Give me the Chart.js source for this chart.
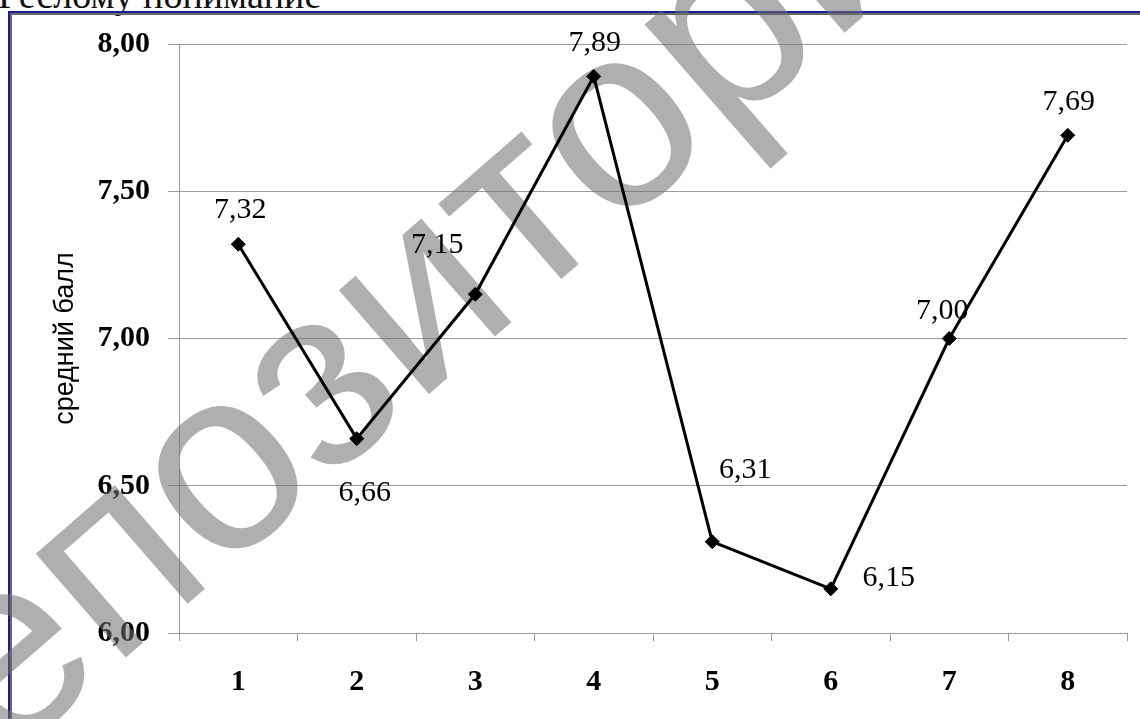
<!DOCTYPE html>
<html>
<head>
<meta charset="utf-8">
<script src="https://cdn.jsdelivr.net/npm/chart.js@4"></script>
<style>
  html, body { margin: 0; padding: 0; background: #fff; overflow: hidden; }
  #page { position: relative; width: 1140px; height: 719px; overflow: hidden; }
  #topText { position: absolute; left: -2px; top: -27px; font: 38px 'Liberation Serif', serif; color: #111; white-space: nowrap; }
  #frame { position: absolute; left: 8px; top: 11px; width: 1200px; height: 800px;
           border: 2px solid #1d1d9a; box-shadow: inset 2px 2px 0 #6a6a6a; }
  #chartModule { position: absolute; left: 0; top: 0; }
</style>
</head>
<body>
<div id="page">
  <div id="topText">Реслому понимание</div>
  <div id="frame"></div>
  <canvas id="chartModule" width="1140" height="719"></canvas>
</div>
<script>
const categories = ['1', '2', '3', '4', '5', '6', '7', '8'];
const averageScores = [7.32, 6.66, 7.15, 7.89, 6.31, 6.15, 7.00, 7.69];
const yTicks = [6.00, 6.50, 7.00, 7.50, 8.00];
const yTitle = 'средний балл';
const watermarkText = 'репозиторий';

// décalage des étiquettes par point (dx, dy en px)
const labelOffsets = [[2, -34], [8, 54], [-38, -49], [1, -33], [33, -72], [58, -11], [-7, -27], [1, -33]];

const formatComma = v => v.toFixed(2).replace('.', ',');

const watermark = {
    id: 'watermark',
    beforeDatasetsDraw(chart) {
        const ctx = chart.ctx;
        ctx.save();
        ctx.translate(-106, 859);
        ctx.rotate(-41 * Math.PI / 180);
        ctx.font = '260px "Liberation Sans", Arial, sans-serif';
        ctx.fillStyle = 'rgba(110,110,110,0.55)';
        ctx.textAlign = 'left';
        ctx.textBaseline = 'alphabetic';
        ctx.fillText(watermarkText, 0, 0);
        ctx.restore();
    }
};

const valueLabels = {
    id: 'valueLabels',
    afterDatasetsDraw(chart) {
        const ctx = chart.ctx;
        const meta = chart.getDatasetMeta(0);
        ctx.save();
        ctx.font = '30px "Liberation Serif", serif';
        ctx.fillStyle = '#000';
        ctx.textAlign = 'center';
        ctx.textBaseline = 'middle';
        meta.data.forEach((pt, i) => {
            const off = labelOffsets[i];
            ctx.fillText(formatComma(averageScores[i]), pt.x + off[0], pt.y + off[1]);
        });
        ctx.restore();
    }
};

const ctx = document.getElementById('chartModule').getContext('2d');

new Chart(ctx, {
    type: 'line',
    data: {
        labels: categories,
        datasets: [{
            label: yTitle,
            data: averageScores,
            borderColor: '#000',
            borderWidth: 3,
            backgroundColor: '#000',
            pointStyle: 'rectRot',
            pointRadius: 7,
            pointBackgroundColor: '#000',
            pointBorderColor: '#000',
            pointBorderWidth: 1,
            tension: 0,
            clip: false
        }]
    },
    options: {
        responsive: false,
        animation: false,
        devicePixelRatio: 1,
        layout: { padding: { left: 0, top: 44, right: 13, bottom: 0 } },
        plugins: {
            legend: { display: false },
            tooltip: { enabled: false }
        },
        scales: {
            x: {
                type: 'category',
                offset: true,
                grid: { offset: true, drawOnChartArea: false, drawTicks: true, tickLength: 8, color: '#9a9a9a', lineWidth: 1 },
                border: { display: true, color: '#9a9a9a', width: 1 },
                ticks: { color: '#000', padding: 23, font: { family: 'Liberation Serif', size: 30, weight: 'bold' } },
                afterFit(scale) { scale.height = 86; }
            },
            y: {
                min: 6,
                max: 8,
                afterBuildTicks(scale) { scale.ticks = yTicks.map(v => ({ value: v })); },
                grid: { color: '#9a9a9a', lineWidth: 1, drawTicks: true, tickLength: 11 },
                border: { display: true, color: '#9a9a9a', width: 1 },
                ticks: {
                    color: '#000',
                    padding: 18,
                    font: { family: 'Liberation Serif', size: 30, weight: 'bold' },
                    callback: v => formatComma(v)
                },
                title: {
                    display: true,
                    text: yTitle,
                    color: '#000',
                    font: { family: 'Liberation Sans', size: 27 },
                    padding: { top: 49, bottom: 0 }
                },
                afterFit(scale) { scale.width = 179; }
            }
        }
    },
    plugins: [watermark, valueLabels]
});
</script>
</body>
</html>
